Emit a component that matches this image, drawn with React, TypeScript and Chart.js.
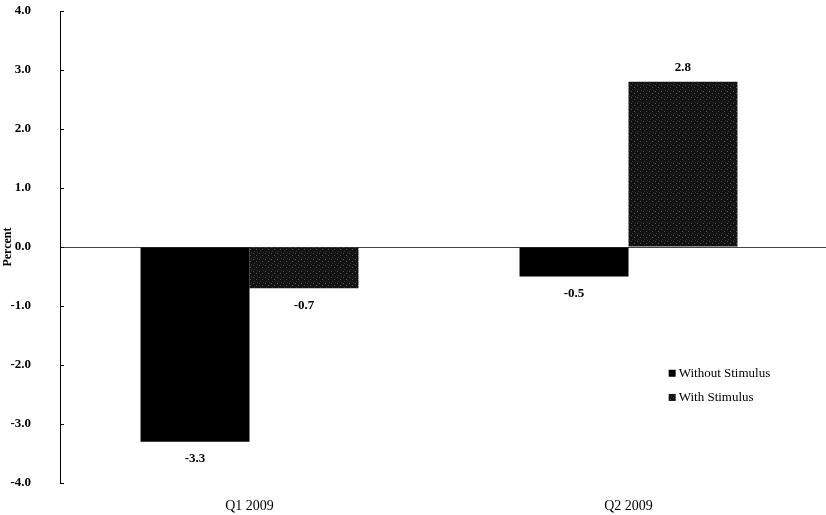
import React, { useEffect, useRef } from "react";
import { Chart, registerables } from "chart.js";

Chart.register(...registerables);

const categories = ["Q1 2009", "Q2 2009"];
const withoutStimulus = [-3.3, -0.5];
const withStimulus = [-0.7, 2.8];
const seriesNames = ["Without Stimulus", "With Stimulus"];
const yTicks = [-4, -3, -2, -1, 0, 1, 2, 3, 4];

const SERIF = '"Liberation Serif", "DejaVu Serif", serif';

function makePattern(): CanvasPattern | string {
  const c = document.createElement("canvas");
  c.width = 6;
  c.height = 6;
  const g = c.getContext("2d");
  if (!g) return "#1c1c1c";
  g.fillStyle = "#121212";
  g.fillRect(0, 0, 6, 6);
  g.fillStyle = "#555555";
  g.fillRect(1, 1, 1, 1);
  g.fillRect(4, 3, 1, 1);
  g.fillStyle = "#333333";
  g.fillRect(2, 5, 1, 1);
  g.fillRect(5, 0, 1, 1);
  const p = g.createPattern(c, "repeat");
  return p || "#1c1c1c";
}

export default function App() {
  const ref = useRef<HTMLCanvasElement | null>(null);

  useEffect(() => {
    if (!ref.current) return;
    const pattern = makePattern();

    const overlay = {
      id: "overlay",
      beforeDatasetsDraw(chart: any) {
        const ctx = chart.ctx;
        const y = chart.scales.y;
        const area = chart.chartArea;
        const y0 = y.getPixelForValue(0);
        ctx.save();
        ctx.strokeStyle = "#444";
        ctx.lineWidth = 1;
        ctx.beginPath();
        ctx.moveTo(area.left, Math.round(y0) + 0.5);
        ctx.lineTo(chart.width, Math.round(y0) + 0.5);
        ctx.stroke();
        ctx.restore();
      },
      afterDatasetsDraw(chart: any) {
        const ctx = chart.ctx;
        const y = chart.scales.y;
        const area = chart.chartArea;
        ctx.save();
        ctx.strokeStyle = "#000";
        ctx.lineWidth = 1;
        yTicks.forEach((t) => {
          const py = Math.round(y.getPixelForValue(t)) + 0.5;
          ctx.beginPath();
          ctx.moveTo(area.left, py);
          ctx.lineTo(area.left + 4, py);
          ctx.stroke();
        });
        ctx.fillStyle = "#000";
        ctx.font = "bold 13px " + SERIF;
        ctx.textAlign = "center";
        ctx.textBaseline = "middle";
        chart.data.datasets.forEach((ds: any, di: number) => {
          const meta = chart.getDatasetMeta(di);
          meta.data.forEach((bar: any, i: number) => {
            const v = ds.data[i] as number;
            const ly = v >= 0 ? bar.y - 14 : bar.y + 17;
            ctx.fillText(v.toFixed(1), bar.x, ly);
          });
        });
        const lx = area.left + 0.803 * (area.right - area.left);
        const ly1 = y.getPixelForValue(-2.14);
        const ly2 = y.getPixelForValue(-2.55);
        const fills = ["#000", pattern];
        [ly1, ly2].forEach((ly, k) => {
          ctx.fillStyle = fills[k] as any;
          ctx.fillRect(lx, ly - 3.5, 7, 7);
          ctx.fillStyle = "#000";
          ctx.font = "13px " + SERIF;
          ctx.textAlign = "left";
          ctx.textBaseline = "middle";
          ctx.fillText(seriesNames[k], lx + 10, ly);
        });
        ctx.restore();
      },
    };

    const chart = new Chart(ref.current, {
      type: "bar",
      data: {
        labels: categories,
        datasets: [
          {
            label: seriesNames[0],
            data: withoutStimulus,
            backgroundColor: "#000",
            borderWidth: 0,
            categoryPercentage: 0.575,
            barPercentage: 1,
          },
          {
            label: seriesNames[1],
            data: withStimulus,
            backgroundColor: pattern as any,
            borderWidth: 0,
            categoryPercentage: 0.575,
            barPercentage: 1,
          },
        ],
      },
      options: {
        animation: false,
        responsive: false,
        maintainAspectRatio: false,
        layout: { padding: { left: 0, top: 11, right: 8, bottom: 0 } },
        plugins: {
          legend: { display: false },
          tooltip: { enabled: false },
        },
        scales: {
          x: {
            grid: { display: false, drawTicks: false },
            border: { display: false },
            ticks: {
              color: "#000",
              font: { family: SERIF, size: 14 },
              padding: 15,
            },
            afterFit: (s: any) => {
              s.height = 32;
            },
          },
          y: {
            min: -4,
            max: 4,
            afterBuildTicks: (s: any) => {
              s.ticks = yTicks.map((v) => ({ value: v }));
            },
            grid: {
              drawOnChartArea: false,
              drawTicks: true,
              tickLength: 26,
              tickColor: "rgba(0,0,0,0)",
            },
            border: { display: true, color: "#000", width: 1 },
            ticks: {
              color: "#000",
              font: { family: SERIF, size: 13, weight: "bold" },
              padding: 3,
              callback: (v: any) => Number(v).toFixed(1),
            },
            title: {
              display: true,
              text: "Percent",
              color: "#000",
              font: { family: SERIF, size: 12, weight: "bold" },
              padding: { top: 1, bottom: 0 },
            },
            afterFit: (s: any) => {
              s.width = 60;
            },
          },
        },
      },
      plugins: [overlay],
    });
    return () => chart.destroy();
  }, []);

  return (
    <div style={{ position: "fixed", left: 0, top: 0, width: 826, height: 515, background: "#fff" }}>
      <canvas ref={ref} width={826} height={515} />
    </div>
  );
}
